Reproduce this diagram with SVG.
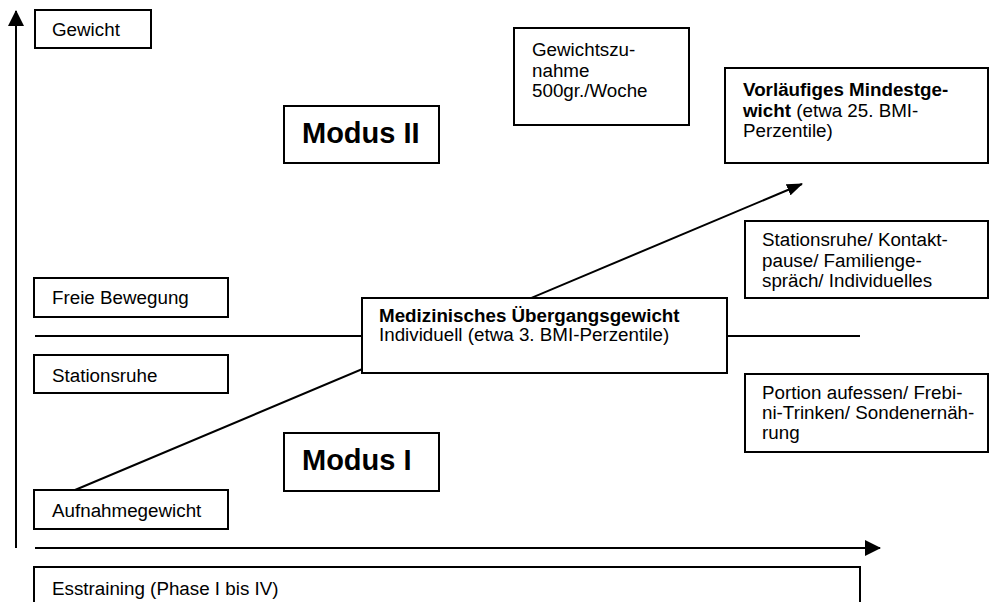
<svg xmlns="http://www.w3.org/2000/svg" width="996" height="602" viewBox="0 0 996 602">
<defs>
<style>
.box{fill:#fff;stroke:#000;stroke-width:2}
.ln{fill:none;stroke:#000;stroke-width:2}
.t{font-family:"Liberation Sans",Arial,sans-serif;font-size:18.8px;fill:#000}
.b{font-weight:bold}
.m{font-family:"Liberation Sans",Arial,sans-serif;font-size:29px;font-weight:bold;fill:#000}
</style>
<marker id="ah" markerWidth="16" markerHeight="16" refX="15" refY="8" orient="auto" markerUnits="userSpaceOnUse">
<path d="M0,0 L16,8 L0,16 Z" fill="#000"/>
</marker>
<marker id="ah2" markerWidth="16" markerHeight="12" refX="15" refY="6" orient="auto" markerUnits="userSpaceOnUse">
<path d="M0,0 L16,6 L0,12 Z" fill="#000"/>
</marker>
</defs>
<rect width="996" height="602" fill="#fff"/>
<g id="connectors">
<line class="ln" x1="16" y1="548" x2="16" y2="11" marker-end="url(#ah)"/>
<line class="ln" x1="35" y1="548" x2="880" y2="548" marker-end="url(#ah)"/>
<line class="ln" x1="35" y1="336" x2="860" y2="336"/>
<line class="ln" x1="75" y1="490" x2="802" y2="184" marker-end="url(#ah2)"/>
</g>
<g id="gewicht"><rect class="box" x="35" y="10" width="116" height="38"/><text class="t" x="52" y="36">Gewicht</text></g>
<g id="zunahme"><rect class="box" x="514" y="28" width="175" height="97"/><text class="t" x="532" y="56">Gewichtszu-</text><text class="t" x="532" y="77">nahme</text><text class="t" x="532" y="97">500gr./Woche</text></g>
<g id="modus2"><rect class="box" x="284" y="106" width="155" height="57"/><text class="m" x="302" y="143">Modus II</text></g>
<g id="mindestgewicht"><rect class="box" x="725" y="68" width="263" height="95"/><text class="t b" x="743" y="96">Vorläufiges Mindestge-</text><text class="t" x="743" y="116.5"><tspan class="b">wicht</tspan> (etwa 25. BMI-</text><text class="t" x="743" y="137">Perzentile)</text></g>
<g id="massnahmen2"><rect class="box" x="745" y="221" width="243" height="77"/><text class="t" x="762" y="246">Stationsruhe/ Kontakt-</text><text class="t" x="762" y="266.5">pause/ Familienge-</text><text class="t" x="762" y="287">spräch/ Individuelles</text></g>
<g id="freie"><rect class="box" x="34" y="278" width="194" height="39"/><text class="t" x="52" y="304">Freie Bewegung</text></g>
<g id="uebergang"><rect class="box" x="362" y="298" width="365" height="75"/><text class="t b" x="379" y="322">Medizinisches Übergangsgewicht</text><text class="t" x="379" y="341">Individuell (etwa 3. BMI-Perzentile)</text></g>
<g id="stationsruhe"><rect class="box" x="34" y="355" width="194" height="38"/><text class="t" x="52" y="382">Stationsruhe</text></g>
<g id="massnahmen1"><rect class="box" x="745" y="374" width="243" height="78"/><text class="t" x="762" y="399">Portion aufessen/ Frebi-</text><text class="t" x="762" y="419">ni-Trinken/ Sondenernäh-</text><text class="t" x="762" y="439">rung</text></g>
<g id="modus1"><rect class="box" x="284" y="433" width="155" height="58"/><text class="m" x="302" y="470">Modus I</text></g>
<g id="aufnahme"><rect class="box" x="34" y="490" width="194" height="39"/><text class="t" x="52" y="517">Aufnahmegewicht</text></g>
<g id="esstraining"><rect class="box" x="34" y="567" width="826" height="50"/><text class="t" x="52" y="595">Esstraining (Phase I bis IV)</text></g>
</svg>
